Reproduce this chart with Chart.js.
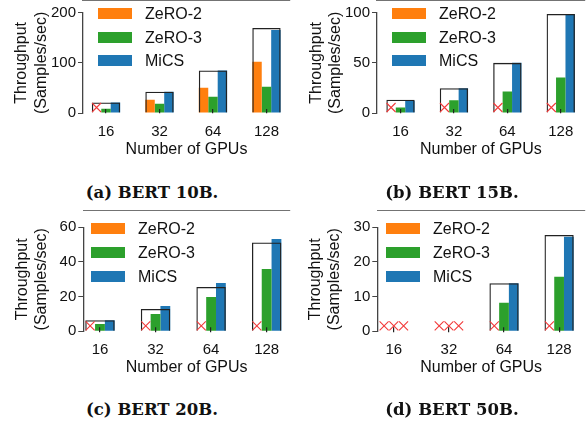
<!DOCTYPE html>
<html>
<head>
<meta charset="utf-8">
<script src="https://cdn.jsdelivr.net/npm/chart.js@4.4.0/dist/chart.umd.min.js"></script>
<style>
  body { margin: 0; background: #fff; width: 587px; height: 426px; position: relative; overflow: hidden; font-family: "Liberation Sans", Arial, sans-serif; }
  canvas { position: absolute; }
  .legend-row { position: absolute; height: 11px; white-space: nowrap; }
  .swatch { position: absolute; left: 0; top: 0; width: 34px; height: 11px; }
  .legend-text { position: absolute; left: 47px; top: -4px; font-size: 16px; line-height: 19px; color: #111; }
  .caption { position: absolute; font-family: "DejaVu Serif", serif; font-weight: bold; font-size: 16.5px; line-height: 20px; transform: translateX(-50%); white-space: nowrap; color: #111; }
</style>
</head>
<body>
<script>
// categories and series
const gpuLabels = ['16', '32', '64', '128'];
const seriesNames = ['ZeRO-2', 'ZeRO-3', 'MiCS'];
const seriesColors = ['#ff7f0e', '#2ca02c', '#1f77b4'];

// null = out of memory (red cross)
const bert10bIdeal = [21, 42.4, 84.8, 169.5];
const bert10bZero2 = [null, 26.5, 50.3, 102];
const bert10bZero3 = [8.6, 18.5, 32.5, 52.3];
const bert10bMics = [21, 42.4, 84.8, 165.6];

const bert15bIdeal = [13.2, 24.8, 50, 98.7];
const bert15bZero2 = [null, null, null, null];
const bert15bZero3 = [5.6, 12.6, 21.5, 35.4];
const bert15bMics = [12.3, 24.8, 50, 98.7];

const bert20bIdeal = [6.35, 12.9, 25.6, 51.3];
const bert20bZero2 = [null, null, null, null];
const bert20bZero3 = [4.2, 10, 19.8, 36];
const bert20bMics = [6.35, 14.6, 27.9, 53.3];

const bert50bIdeal = [null, null, 13.85, 27.8];
const bert50bZero2 = [null, null, null, null];
const bert50bZero3 = [null, null, 8.2, 15.7];
const bert50bMics = [null, null, 13.85, 27.3];

const yMaxes = [200, 100, 60, 30];
const ySteps = [100, 50, 20, 10];
const captions = ['(a) BERT 10B.', '(b) BERT 15B.', '(c) BERT 20B.', '(d) BERT 50B.'];

const FONT = '"Liberation Sans", Arial, sans-serif';

// draws the red crosses for OOM runs at the bar slot
const oomMarks = {
    id: 'oomMarks',
    afterDatasetsDraw(chart) {
        const ctx = chart.ctx;
        const y0 = chart.scales.y.getPixelForValue(0);
        chart.data.datasets.forEach((ds, di) => {
            if (ds.isIdeal) return;
            const meta = chart.getDatasetMeta(di);
            ds.data.forEach((pt, i) => {
                if (pt.y !== null) return;
                const x = meta.data[i].x, y = y0 - 5.5, r = 4.5;
                ctx.save();
                ctx.strokeStyle = '#f23b3b';
                ctx.lineWidth = 1.1;
                ctx.beginPath();
                ctx.moveTo(x - r, y - r); ctx.lineTo(x + r, y + r);
                ctx.moveTo(x + r, y - r); ctx.lineTo(x - r, y + r);
                ctx.stroke();
                ctx.restore();
            });
        });
    }
};

const panels = [
    { series: [bert10bZero2, bert10bZero3, bert10bMics], ideal: bert10bIdeal,
      left: 0, top: 0, w: 293, h: 165, padL: 8.4, padR: 3, padT: 12.7, padB: 4, yWidth: 74.6,
      xMin: -0.43, xMax: 3.44, legL: 98, legT: 8, legGap: 23.5, capX: 152, capY: 183 },
    { series: [bert15bZero2, bert15bZero3, bert15bMics], ideal: bert15bIdeal,
      left: 290, top: 0, w: 297, h: 165, padL: 12.6, padR: 2, padT: 12.7, padB: 4, yWidth: 74.4,
      xMin: -0.44, xMax: 3.45, legL: 392, legT: 8, legGap: 23.5, capX: 452, capY: 183 },
    { series: [bert20bZero2, bert20bZero3, bert20bMics], ideal: bert20bIdeal,
      left: 0, top: 210, w: 293, h: 175, padL: 8.5, padR: 3, padT: 17.3, padB: 5.7, yWidth: 74.8,
      xMin: -0.30, xMax: 3.42, legL: 91, legT: 222.7, legGap: 24, capX: 152, capY: 400 },
    { series: [bert50bZero2, bert50bZero3, bert50bMics], ideal: bert50bIdeal,
      left: 290, top: 210, w: 297, h: 175, padL: 12, padR: 2, padT: 17.3, padB: 5.7, yWidth: 75.3,
      xMin: -0.30, xMax: 3.47, legL: 386, legT: 222.7, legGap: 24, capX: 452, capY: 400 }
];

function makePanel(p, idx) {
    const canvas = document.createElement('canvas');
    canvas.width = p.w;
    canvas.height = p.h;
    canvas.style.left = p.left + 'px';
    canvas.style.top = p.top + 'px';
    document.body.appendChild(canvas);

    const toXY = arr => arr.map((v, i) => ({ x: i, y: v }));
    const datasets = p.series.map((vals, k) => ({
        label: seriesNames[k],
        data: toXY(vals),
        backgroundColor: seriesColors[k],
        borderWidth: 0,
        categoryPercentage: 0.53,
        barPercentage: 1,
        order: 1
    }));
    // ideal (linear scaling) outline box, drawn over the bars
    datasets.push({
        label: 'Ideal',
        isIdeal: true,
        data: toXY(p.ideal),
        backgroundColor: 'rgba(0,0,0,0)',
        borderColor: '#222',
        borderWidth: 1.3,
        grouped: false,
        categoryPercentage: 0.53,
        barPercentage: 1,
        order: 0
    });

    new Chart(canvas, {
        type: 'bar',
        data: { datasets: datasets },
        plugins: [oomMarks],
        options: {
            responsive: false,
            animation: false,
            layout: { padding: { left: p.padL, right: p.padR, top: p.padT, bottom: p.padB } },
            plugins: { legend: { display: false }, tooltip: { enabled: false } },
            scales: {
                x: {
                    type: 'linear',
                    min: p.xMin,
                    max: p.xMax,
                    offset: false,
                    grid: { offset: false, drawOnChartArea: false, tickLength: -4, color: '#222', lineWidth: 1.2, z: 1 },
                    border: { color: '#444', width: 1.3 },
                    ticks: {
                        stepSize: 1,
                        includeBounds: false,
                        autoSkip: false,
                        maxRotation: 0,
                        padding: 13.5,
                        color: '#111',
                        font: { size: 15, family: FONT },
                        callback: v => gpuLabels[v] !== undefined ? gpuLabels[v] : ''
                    },
                    title: { display: true, text: 'Number of GPUs', color: '#111', font: { size: 16, family: FONT }, padding: { top: 0, bottom: 2 } },
                    afterFit: s => { s.height = 48; }
                },
                y: {
                    min: 0,
                    max: yMaxes[idx],
                    grid: { drawOnChartArea: false, tickLength: 5, color: '#444' },
                    border: { color: '#444', width: 1.3 },
                    ticks: { stepSize: ySteps[idx], padding: 2, color: '#111', font: { size: 15, family: FONT } },
                    title: { display: true, text: ['Throughput', '(Samples/sec)'], color: '#111', font: { size: 16, family: FONT }, padding: { top: 4, bottom: 4 } },
                    afterFit: s => { s.width = p.yWidth; }
                }
            }
        }
    });

    // legend
    seriesNames.forEach((name, k) => {
        const row = document.createElement('div');
        row.className = 'legend-row';
        row.style.left = p.legL + 'px';
        row.style.top = (p.legT + k * p.legGap) + 'px';
        row.innerHTML = '<div class="swatch" style="background:' + seriesColors[k] + '"></div><div class="legend-text">' + name + '</div>';
        document.body.appendChild(row);
    });

    const cap = document.createElement('div');
    cap.className = 'caption';
    cap.style.left = p.capX + 'px';
    cap.style.top = p.capY + 'px';
    cap.textContent = captions[idx];
    document.body.appendChild(cap);
}

panels.forEach(makePanel);
</script>
</body>
</html>
